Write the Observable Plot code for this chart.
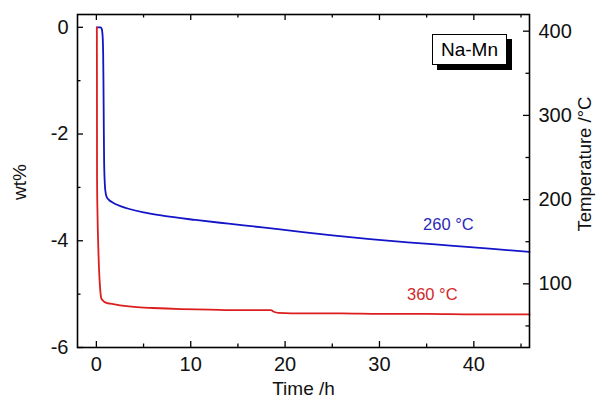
<!DOCTYPE html>
<html>
<head>
<meta charset="utf-8">
<script src="https://cdn.jsdelivr.net/npm/d3@7"></script>
<script src="https://cdn.jsdelivr.net/npm/@observablehq/plot@0.6"></script>
<style>
  html, body { margin: 0; padding: 0; background: #fff; }
  #wrap { position: relative; width: 596px; height: 399px; font-family: "Liberation Sans", Arial, sans-serif; }
  #tag { position: absolute; left: 432px; top: 34px; width: 73px; height: 29px; border: 1px solid #000;
         background: #fff; box-shadow: 5px 5px 0 #000; font-size: 19px; line-height: 29px; text-align: center; color: #000; }
</style>
</head>
<body>
<div id="wrap"></div>
<script>
// Data
const timeBlue = [0.05,0.45,0.55,0.62,0.68,0.72,0.75,0.78,0.82,0.9,0.98,1.1,1.3,1.6,2.0,2.7,3.4,5,7,10.5,14,17.6,21,25,29,33,37.5,42,45.9];
const wtBlue   = [0,0,-0.02,-0.08,-0.22,-0.5,-1.0,-1.7,-2.5,-2.95,-3.1,-3.18,-3.23,-3.27,-3.31,-3.36,-3.40,-3.47,-3.53,-3.61,-3.68,-3.75,-3.82,-3.90,-3.97,-4.03,-4.09,-4.15,-4.21];
const timeRed  = [0.05,0.06,0.07,0.12,0.2,0.3,0.38,0.45,0.52,0.7,1.0,1.5,2.5,4,6,9,12,15,18.5,18.8,19.3,22,26,30,35,40,45.9];
const wtRed    = [0,-1.0,-2.8,-3.5,-4.1,-4.6,-4.85,-5.0,-5.08,-5.12,-5.16,-5.18,-5.21,-5.24,-5.26,-5.28,-5.29,-5.30,-5.30,-5.33,-5.35,-5.36,-5.36,-5.37,-5.37,-5.38,-5.38];
const seriesNames = ["260 °C", "360 °C"];
const labelTime = [37.3, 35.6];
const labelWt = [-3.69, -5.01];
const xMajor = [0, 10, 20, 30, 40];
const xMinor = [5, 15, 25, 35, 45];
const yMajor = [0, -2, -4, -6];
const yMinor = [-1, -3, -5];
const tempMajor = [100, 200, 300, 400];
const tempMinor = [50, 150, 250, 350];
const xDomain = [-2, 45.9];
const yDomain = [-6, 0.24];
const tempDomain = [24.4, 419.8];

const W = 596, H = 399, mL = 77, mR = 67, mT = 14, mB = 52;
const fw = W - mL - mR, fh = H - mT - mB;
const major = 6, minor = 3.5;

const blue = "#1414c8", red = "#dc1e1e";
const blueText = "#2a2ab8", redText = "#d02a2a";

const toWt = t => yDomain[0] + (t - tempDomain[0]) * (yDomain[1] - yDomain[0]) / (tempDomain[1] - tempDomain[0]);
const fromWt = w => tempDomain[0] + (w - yDomain[0]) * (tempDomain[1] - tempDomain[0]) / (yDomain[1] - yDomain[0]);

const blueData = timeBlue.map((t, i) => ({t, w: wtBlue[i]}));
const redData = timeRed.map((t, i) => ({t, w: wtRed[i]}));
const labels = seriesNames.map((s, i) => ({s, t: labelTime[i], w: labelWt[i], c: i === 0 ? blueText : redText}));

const tk = {stroke: "#000", strokeWidth: 1.3};
const chart = Plot.plot({
  width: W, height: H,
  marginLeft: mL, marginRight: mR, marginTop: mT, marginBottom: mB,
  style: {fontFamily: '"Liberation Sans", Arial, sans-serif', fontSize: "20px", color: "#111", background: "#fff", overflow: "visible"},
  x: {domain: xDomain},
  y: {domain: yDomain},
  marks: [
    Plot.line(blueData, {x: "t", y: "w", stroke: blue, strokeWidth: 1.8, curve: "monotone-x"}),
    Plot.line(redData, {x: "t", y: "w", stroke: red, strokeWidth: 1.8, curve: "monotone-x"}),
    Plot.text(labels, {x: "t", y: "w", text: "s", fill: "c", fontSize: 16.5}),
    // inward ticks
    Plot.tickX(xMajor, {x: d => d, insetTop: fh - major, ...tk}),
    Plot.tickX(xMinor, {x: d => d, insetTop: fh - minor, ...tk}),
    Plot.tickX(xMajor, {x: d => d, insetBottom: fh - major, ...tk}),
    Plot.tickX(xMinor, {x: d => d, insetBottom: fh - minor, ...tk}),
    Plot.tickY(yMajor, {y: d => d, insetRight: fw - major, ...tk}),
    Plot.tickY(yMinor, {y: d => d, insetRight: fw - minor, ...tk}),
    Plot.tickY(tempMajor.map(toWt), {y: d => d, insetLeft: fw - major, ...tk}),
    Plot.tickY(tempMinor.map(toWt), {y: d => d, insetLeft: fw - minor, ...tk}),
    // tick labels
    Plot.axisX({anchor: "bottom", ticks: xMajor, tickSize: 0, tickPadding: 9, tickFormat: d => String(d), label: null}),
    Plot.axisY({anchor: "left", ticks: yMajor, tickSize: 0, tickPadding: 9, tickFormat: d => String(d), label: null}),
    Plot.axisY({anchor: "right", ticks: tempMajor.map(toWt), tickSize: 0, tickPadding: 9, tickFormat: d => String(Math.round(fromWt(d))), label: null}),
    Plot.frame({stroke: "#000", strokeWidth: 1.6}),
    Plot.text(["Time /h"], {frameAnchor: "bottom", dy: 41, textAnchor: "middle", lineAnchor: "middle", fontSize: 19}),
    Plot.text(["wt%"], {frameAnchor: "left", dx: -58, dy: 1, rotate: -90, textAnchor: "middle", lineAnchor: "middle", fontSize: 19}),
    Plot.text(["Temperature /°C"], {frameAnchor: "right", dx: 56, dy: -17, rotate: -90, textAnchor: "middle", lineAnchor: "middle", fontSize: 18.5})
  ]
});
const wrap = document.getElementById("wrap");
wrap.appendChild(chart);
const tag = document.createElement("div");
tag.id = "tag";
tag.textContent = "Na-Mn";
wrap.appendChild(tag);
</script>
</body>
</html>
